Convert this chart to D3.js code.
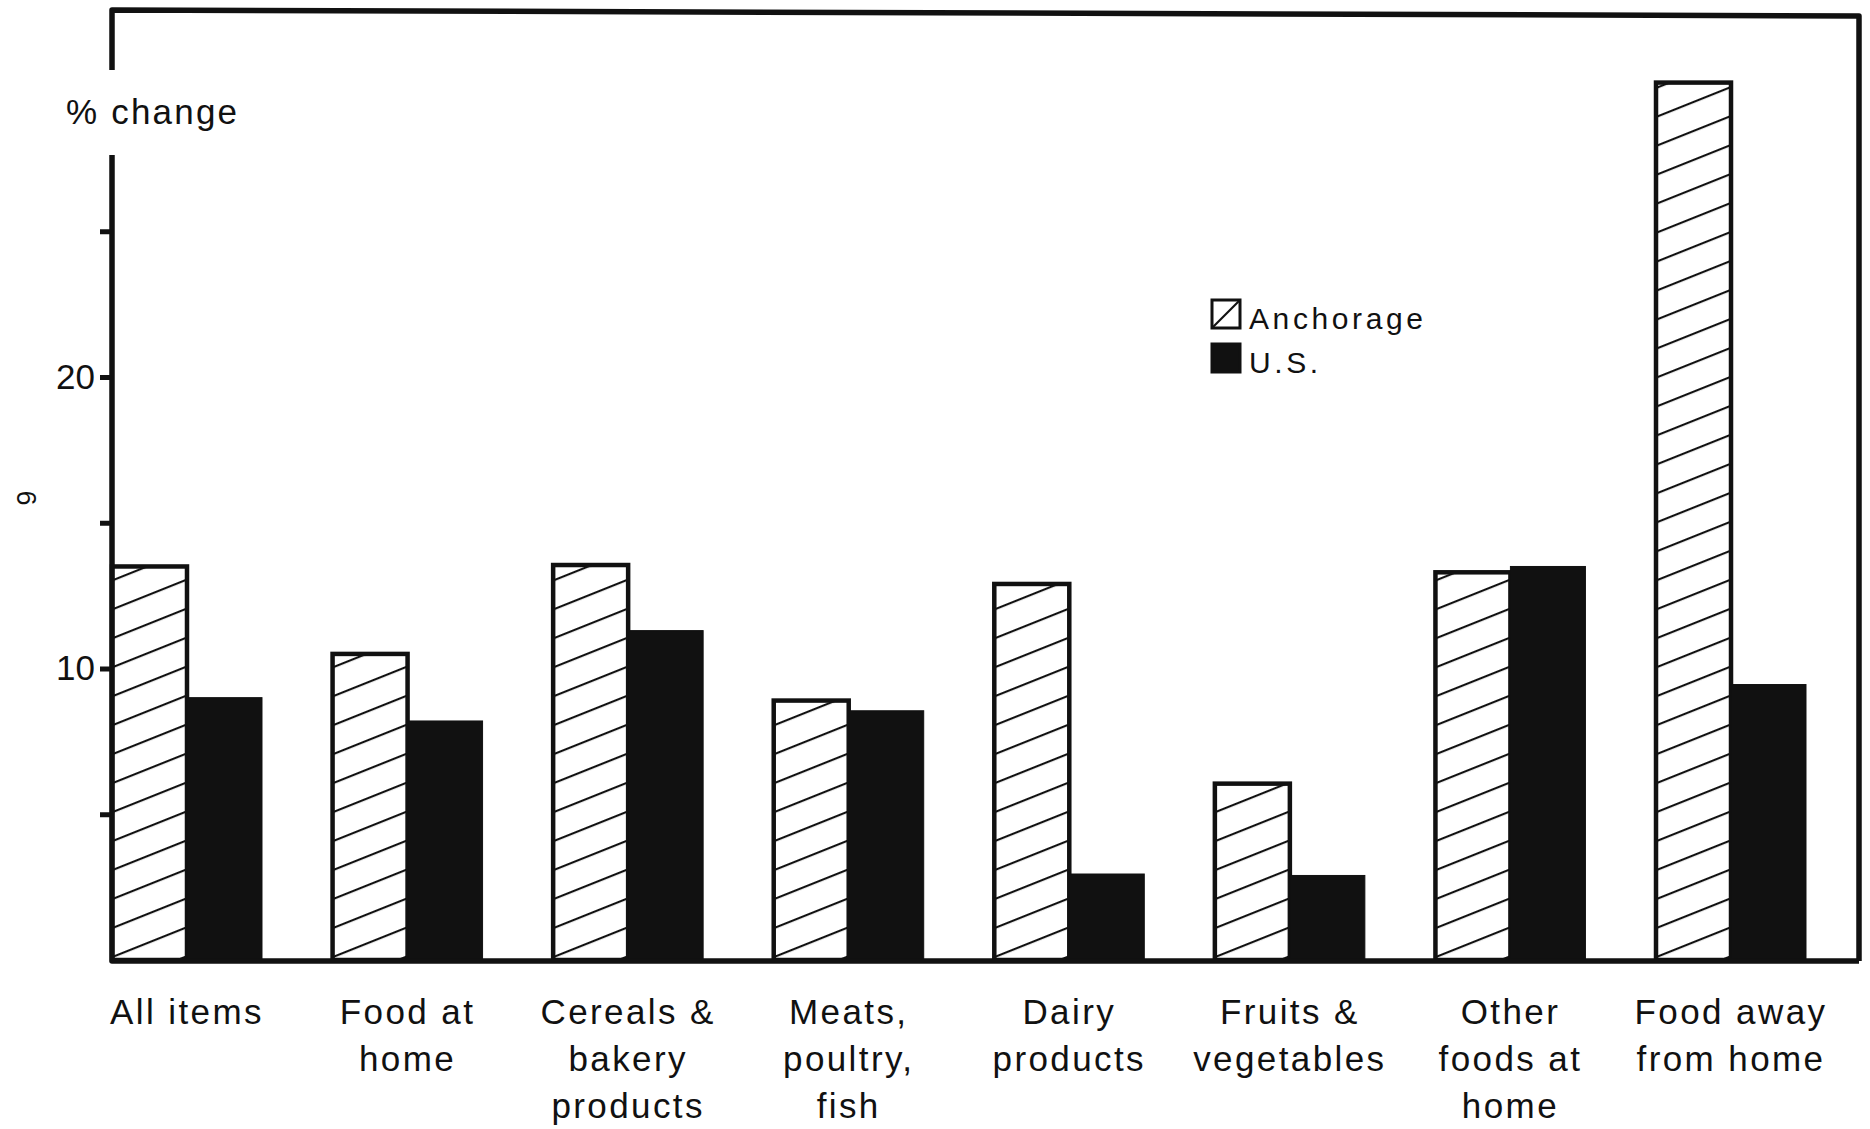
<!DOCTYPE html>
<html>
<head>
<meta charset="utf-8">
<script src="https://cdn.jsdelivr.net/npm/d3@7"></script>
<style>
  body { margin: 0; background: #fff; }
  svg { display: block; }
  text { font-family: "Liberation Sans", Arial, sans-serif; fill: #111; }
</style>
</head>
<body>
<div id="chart-wrapper"></div>
<script>
// Data (% change)
const categories = ["All items", "Food at home", "Cereals & bakery products", "Meats, poultry, fish",
  "Dairy products", "Fruits & vegetables", "Other foods at home", "Food away from home"]
const labelLines = [
  ["All items"],
  ["Food at", "home"],
  ["Cereals &", "bakery", "products"],
  ["Meats,", "poultry,", "fish"],
  ["Dairy", "products"],
  ["Fruits &", "vegetables"],
  ["Other", "foods at", "home"],
  ["Food away", "from home"]
]
const series = ["Anchorage", "U.S."]
const anchorage = [13.5, 10.5, 13.55, 8.9, 12.9, 6.05, 13.3, 30.1]
const us = [9.0, 8.2, 11.3, 8.55, 2.95, 2.9, 13.5, 9.45]
const tickValues = [5, 10, 15, 20, 25]
const labeledTicks = [10, 20]

function drawChart() {
  const dimensions = { width: 1870, height: 1129 }

  const svg = d3.select("#chart-wrapper")
    .append("svg")
      .attr("width", dimensions.width)
      .attr("height", dimensions.height)

  // hatch pattern for Anchorage bars
  svg.append("defs").append("pattern")
      .attr("id", "hatch")
      .attr("patternUnits", "userSpaceOnUse")
      .attr("width", 20)
      .attr("height", 26.9)
      .attr("patternTransform", "rotate(-21.8)")
    .append("line")
      .attr("x1", 0).attr("x2", 20)
      .attr("y1", 1).attr("y2", 1)
      .attr("stroke", "#111")
      .attr("stroke-width", 2.2)

  // scales
  const xScale = d3.scaleBand()
      .domain(categories)
      .range([112, 1806])
      .paddingInner(0.32)
      .paddingOuter(0)

  const xInner = d3.scaleBand()
      .domain(series)
      .range([0, xScale.bandwidth()])

  const yScale = d3.scaleLinear()
      .domain([0, 30])
      .range([960, 85.5])

  const rows = categories.map((c, i) => ({ cat: c, values: [anchorage[i], us[i]] }))

  // bars
  const groups = svg.append("g").selectAll("g")
    .data(rows)
    .join("g")
      .attr("transform", d => `translate(${xScale(d.cat)},0)`)

  groups.selectAll("rect")
    .data(d => d.values.map((v, j) => ({ key: series[j], value: v })))
    .join("rect")
      .attr("x", d => xInner(d.key))
      .attr("width", xInner.bandwidth())
      .attr("y", d => yScale(d.value))
      .attr("height", d => yScale(0) - yScale(d.value))
      .attr("fill", d => d.key == "Anchorage" ? "url(#hatch)" : "#111")
      .attr("stroke", "#111")
      .attr("stroke-width", d => d.key == "Anchorage" ? 4.5 : 1)

  // y axis ticks
  const yAxis = d3.axisLeft(yScale)
      .tickValues(tickValues)
      .tickSize(12)
      .tickPadding(5)
      .tickFormat(d => labeledTicks.includes(d) ? d : "")

  const axisG = svg.append("g")
      .attr("transform", "translate(112,0)")
      .call(yAxis)
  axisG.select(".domain").remove()
  axisG.selectAll(".tick line").attr("stroke", "#111").attr("stroke-width", 5)
  axisG.selectAll(".tick text")
      .attr("font-size", 35)
      .attr("font-family", "Liberation Sans, Arial, sans-serif")
      .attr("fill", "#111")

  // frame (left axis broken around the unit label)
  const x0 = 112, x1 = 1859, base = yScale(0) + 1
  const frame = d3.path()
  frame.moveTo(x0, 70); frame.lineTo(x0, 10); frame.lineTo(x1, 16); frame.lineTo(x1, base)
  frame.moveTo(x0, 155); frame.lineTo(x0, base); frame.lineTo(x1, base)
  svg.append("path")
      .attr("d", frame.toString())
      .attr("fill", "none")
      .attr("stroke", "#111")
      .attr("stroke-width", 5.5)
      .attr("stroke-linejoin", "round")

  svg.append("text")
      .attr("x", 66)
      .attr("y", 124)
      .attr("font-size", 35)
      .attr("letter-spacing", 2.2)
      .text("% change")

  // category labels
  const labels = svg.append("g").selectAll("text")
    .data(rows.map((d, i) => ({ cat: d.cat, lines: labelLines[i] })))
    .join("text")
      .attr("text-anchor", "middle")
      .attr("font-size", 35)
      .attr("letter-spacing", 2.4)
      .attr("x", d => xScale(d.cat) + xScale.bandwidth() / 2)
      .attr("y", 1024)

  labels.selectAll("tspan")
    .data(d => d.lines.map(l => ({ l, x: xScale(d.cat) + xScale.bandwidth() / 2 })))
    .join("tspan")
      .attr("x", d => d.x)
      .attr("dy", (d, i) => i == 0 ? 0 : 47)
      .text(d => d.l)

  // legend
  const legend = svg.append("g").attr("transform", "translate(1212,300)")
  const legendRows = legend.selectAll("g")
    .data(series)
    .join("g")
      .attr("transform", (d, i) => `translate(0,${i * 44})`)
  legendRows.append("rect")
      .attr("width", 28).attr("height", 28)
      .attr("fill", d => d == "Anchorage" ? "#fff" : "#111")
      .attr("stroke", "#111")
      .attr("stroke-width", 3)
  legendRows.filter(d => d == "Anchorage").append("line")
      .attr("x1", 0).attr("y1", 28).attr("x2", 28).attr("y2", 0)
      .attr("stroke", "#111").attr("stroke-width", 2.2)
  legendRows.append("text")
      .attr("x", 37)
      .attr("y", 29)
      .attr("font-size", 30)
      .attr("letter-spacing", 3.6)
      .text(d => d)

  // page number in the margin
  svg.append("text")
      .attr("transform", "translate(26,498) rotate(90)")
      .attr("text-anchor", "middle")
      .attr("dominant-baseline", "central")
      .attr("font-family", "Liberation Serif, serif")
      .attr("font-size", 27)
      .text("6")
}

drawChart()
</script>
</body>
</html>
